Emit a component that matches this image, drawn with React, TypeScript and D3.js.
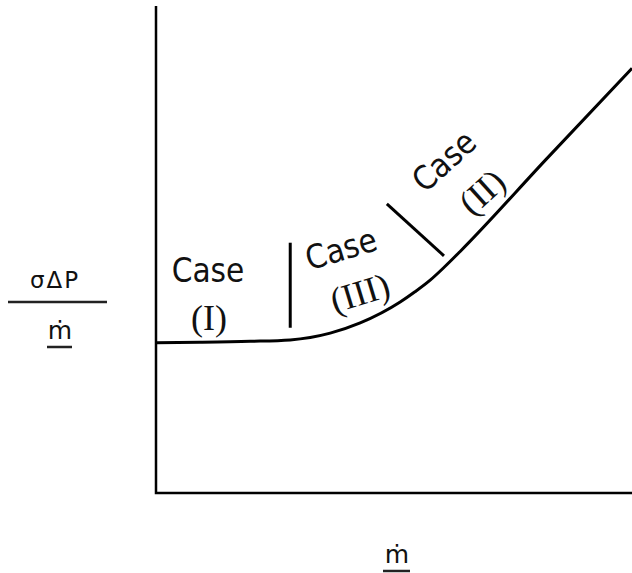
import React from "react";
import * as d3 from "d3";

// Pressure-drop curve: flow (x) vs σΔP / ṁ (y), in relative units 0–100
const flowValues = [0, 9.2, 19.8, 28.2, 36.6, 42.9, 51.3, 54.4, 57.6, 60.7, 63.9, 81.9, 100];
const ratioValues = [30.9, 31.0, 31.2, 31.5, 32.9, 35.0, 39.3, 41.4, 43.8, 46.6, 49.7, 68.6, 87.4];

// Regime boundaries (start/end points in data units)
const dividerX1 = [28.2, 48.5];
const dividerY1 = [51.5, 59.5];
const dividerX2 = [28.2, 60.5];
const dividerY2 = [34.0, 48.8];

// Regime labels
const caseWords = ["Case", "Case", "Case"];
const caseNumerals = ["(I)", "(III)", "(II)"];
const yLabelTop = "σΔP";
const flowSymbol = "ṁ";

const W = 632;
const H = 573;
const left = 156;
const right = 632;
const top = 7;
const bottom = 493;

export default function App() {
  const x = d3.scaleLinear().domain([0, 100]).range([left, right]);
  const y = d3.scaleLinear().domain([0, 100]).range([bottom, top]);

  const pts = flowValues.map((v, i) => [v, ratioValues[i]] as [number, number]);
  const line = d3
    .line<[number, number]>()
    .x((d) => x(d[0]))
    .y((d) => y(d[1]))
    .curve(d3.curveMonotoneX);

  const sansC = "'DejaVu Sans Condensed', 'DejaVu Sans', sans-serif";
  const sans = "'DejaVu Sans', sans-serif";
  const serif = "'Liberation Serif', 'Times New Roman', serif";

  // label placement: [cx, cy, rotation]
  const wordPos: [number, number, number][] = [
    [208, 270, 0],
    [341, 249, -17],
    [444, 161, -42],
  ];
  const numPos: [number, number, number][] = [
    [209, 318, 0],
    [360, 293, -17],
    [482, 192, -42],
  ];

  return (
    <svg
      width={W}
      height={H}
      style={{ position: "absolute", left: 0, top: 0, background: "#fff" }}
    >
      {/* axes */}
      <path
        d={`M${x(0)},${y(100) - 1}V${y(0)}H${x(100)}`}
        fill="none"
        stroke="#000"
        strokeWidth={2.5}
      />

      {/* curve */}
      <path d={line(pts) ?? ""} fill="none" stroke="#000" strokeWidth={3} />

      {/* regime dividers */}
      {[0, 1].map((i) => (
        <line
          key={i}
          x1={x(dividerX1[i])}
          y1={y(dividerY1[i])}
          x2={x(dividerX2[i])}
          y2={y(dividerY2[i])}
          stroke="#000"
          strokeWidth={3}
        />
      ))}

      {/* regime labels */}
      {caseWords.map((w, i) => (
        <text
          key={"w" + i}
          transform={`translate(${wordPos[i][0]},${wordPos[i][1]}) rotate(${wordPos[i][2]})`}
          textAnchor="middle"
          dominantBaseline="central"
          fontFamily={sansC}
          fontSize={33}
          fill="#111"
        >
          {w}
        </text>
      ))}
      {caseNumerals.map((w, i) => (
        <text
          key={"n" + i}
          transform={`translate(${numPos[i][0]},${numPos[i][1]}) rotate(${numPos[i][2]})`}
          textAnchor="middle"
          dominantBaseline="central"
          fontFamily={serif}
          fontSize={36}
          fill="#111"
        >
          {w}
        </text>
      ))}

      {/* y label as fraction */}
      <text
        x={55}
        y={288}
        textAnchor="middle"
        fontFamily={sans}
        fontSize={23}
        letterSpacing={2}
        fill="#111"
      >
        {yLabelTop}
      </text>
      <line x1={8} x2={107} y1={302} y2={302} stroke="#222" strokeWidth={2.5} />
      <text x={60} y={339} textAnchor="middle" fontFamily={sans} fontSize={25} fill="#111">
        {flowSymbol}
      </text>
      <line x1={47} x2={72} y1={347} y2={347} stroke="#222" strokeWidth={2.5} />

      {/* x label */}
      <text x={397} y={563} textAnchor="middle" fontFamily={sans} fontSize={25} fill="#111">
        {flowSymbol}
      </text>
      <line x1={383} x2={410} y1={571} y2={571} stroke="#222" strokeWidth={2.5} />
    </svg>
  );
}
